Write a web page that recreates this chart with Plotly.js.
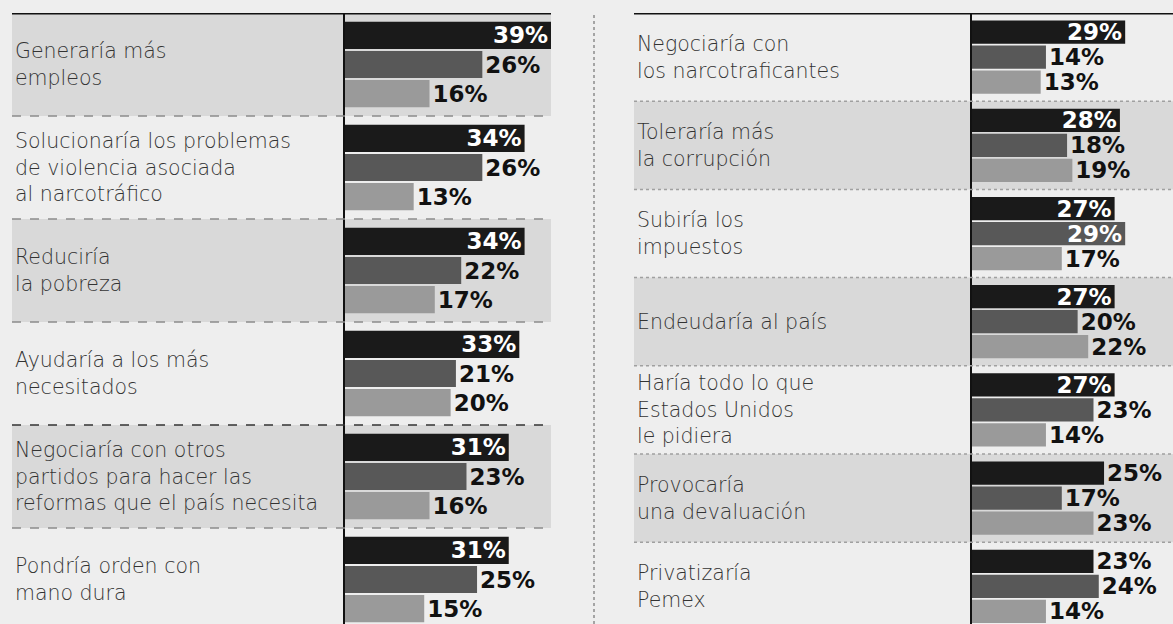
<!DOCTYPE html>
<html>
<head>
<meta charset="utf-8">
<script src="https://cdn.plot.ly/plotly-3.0.1.min.js"></script>
<style>
  html, body { margin: 0; padding: 0; background: #eeeeee; }
  #chart { width: 1173px; height: 624px; }
</style>
</head>
<body>
<div id="chart"></div>
<script>
// left panel: positive expectations
var leftLabels = [
  'Generaría más<br>empleos',
  'Solucionaría los problemas<br>de violencia asociada<br>al narcotráfico',
  'Reduciría<br>la pobreza',
  'Ayudaría a los más<br>necesitados',
  'Negociaría con otros<br>partidos para hacer las<br>reformas que el país necesita',
  'Pondría orden con<br>mano dura'
];
var leftA = [39, 34, 34, 33, 31, 31];
var leftB = [26, 26, 22, 21, 23, 25];
var leftC = [16, 13, 17, 20, 16, 15];

// right panel: negative expectations
var rightLabels = [
  'Negociaría con<br>los narcotraficantes',
  'Toleraría más<br>la corrupción',
  'Subiría los<br>impuestos',
  'Endeudaría al país',
  'Haría todo lo que<br>Estados Unidos<br>le pidiera',
  'Provocaría<br>una devaluación',
  'Privatizaría<br>Pemex'
];
var rightA = [29, 28, 27, 27, 27, 25, 23];
var rightB = [14, 18, 29, 20, 23, 17, 24];
var rightC = [13, 19, 17, 22, 14, 23, 14];

// where the label sits (inside the bar or after it)
var rightPosA = ['inside', 'inside', 'inside', 'inside', 'inside', 'outside', 'outside'];
var rightPosB = ['outside', 'outside', 'inside', 'outside', 'outside', 'outside', 'outside'];

var colors = ['#1a1a1a', '#585858', '#9a9a9a'];
var W = 1173, H = 624;
var pct = function (v) { return v + '%'; };

function barTrace(vals, labels, color, xa, ya, pos) {
  return {
    type: 'bar', orientation: 'h',
    x: vals, y: labels,
    xaxis: xa, yaxis: ya,
    marker: { color: color, line: { width: 0 } },
    text: vals.map(pct),
    textposition: pos,
    insidetextanchor: 'end',
    textangle: 0,
    constraintext: 'none',
    cliponaxis: false,
    insidetextfont: { family: 'DejaVu Sans', size: 23, color: '#ffffff', weight: 'bold' },
    outsidetextfont: { family: 'DejaVu Sans', size: 23, color: '#111111', weight: 'bold' },
    hoverinfo: 'none',
    showlegend: false
  };
}

var leftPosA = leftA.map(function () { return 'inside'; });
var outsideL = leftA.map(function () { return 'outside'; });
var outsideR = rightA.map(function () { return 'outside'; });

var data = [
  barTrace(leftA, leftLabels, colors[0], 'x', 'y', leftPosA),
  barTrace(leftB, leftLabels, colors[1], 'x', 'y', outsideL),
  barTrace(leftC, leftLabels, colors[2], 'x', 'y', outsideL),
  barTrace(rightA, rightLabels, colors[0], 'x2', 'y2', rightPosA),
  barTrace(rightB, rightLabels, colors[1], 'x2', 'y2', rightPosB),
  barTrace(rightC, rightLabels, colors[2], 'x2', 'y2', outsideR)
];

var topY = 1 - 13 / H;
var leftPanel = [12 / W, 551 / W];
var rightPanel = [634 / W, 1];

var shapes = [];
var annotations = [];

function panel(labels, yref, span, shadeOdd, lineStyle) {
  labels.forEach(function (lab, i) {
    if ((i % 2 === 0) === shadeOdd) {
      shapes.push({
        type: 'rect', layer: 'below', xref: 'paper', yref: yref,
        x0: span[0], x1: span[1], y0: i - 0.5, y1: i + 0.5,
        fillcolor: '#d9d9d9', line: { width: 0 }
      });
    }
    if (i < labels.length - 1) {
      shapes.push({
        type: 'line', xref: 'paper', yref: yref,
        x0: span[0], x1: span[1], y0: i + 0.5, y1: i + 0.5,
        line: { color: lineStyle.color(i), width: lineStyle.width, dash: lineStyle.dash }
      });
    }
    annotations.push({
      xref: 'paper', yref: yref, x: span[0] + 1 / W, y: lab,
      text: lab, showarrow: false, xanchor: 'left', yanchor: 'middle', align: 'left',
      font: { family: 'DejaVu Sans', size: 20.5, color: '#333333', weight: 300 }
    });
  });
  // thick rule on top of the panel
  shapes.push({
    type: 'line', xref: 'paper', yref: yref,
    x0: span[0], x1: span[1], y0: -0.5, y1: -0.5,
    line: { color: '#111111', width: 3 }
  });
}

panel(leftLabels, 'y', leftPanel, true, {
  color: function (i) { return i === 3 ? '#333333' : '#8c8c8c'; },
  width: 1.5, dash: 'dash'
});
panel(rightLabels, 'y2', rightPanel, false, {
  color: function () { return '#a0a0a0'; },
  width: 1.5, dash: 'dot'
});

// dotted divider between the two panels
shapes.push({
  type: 'line', xref: 'paper', yref: 'paper',
  x0: 594 / W, x1: 594 / W, y0: 0, y1: topY,
  line: { color: '#8c8c8c', width: 1.5, dash: 'dot' }
});

var hiddenX = { showgrid: false, zeroline: false, showline: false, showticklabels: false, ticks: '', fixedrange: true };
var catY = {
  type: 'category', showgrid: false, zeroline: false, showticklabels: false, ticks: '',
  showline: true, linecolor: '#111111', linewidth: 2.5, fixedrange: true
};

var layout = {
  width: W, height: H,
  margin: { l: 0, r: 0, t: 0, b: 0, pad: 0 },
  paper_bgcolor: '#eeeeee',
  plot_bgcolor: 'rgba(0,0,0,0)',
  barmode: 'group',
  bargap: 0.15,
  bargroupgap: 0.07,
  xaxis: Object.assign({}, hiddenX, { domain: [345 / W, 551 / W], range: [0, 39], anchor: 'y' }),
  yaxis: Object.assign({}, catY, { domain: [0, topY], range: [5.432, -0.5], anchor: 'x' }),
  xaxis2: Object.assign({}, hiddenX, { domain: [972 / W, 1], range: [0, 201 / (206 / 39)], anchor: 'y2' }),
  yaxis2: Object.assign({}, catY, { domain: [0, topY], range: [6.427, -0.5], anchor: 'x2' }),
  shapes: shapes,
  annotations: annotations
};

Plotly.newPlot('chart', data, layout, { displayModeBar: false, staticPlot: true });
</script>
</body>
</html>
